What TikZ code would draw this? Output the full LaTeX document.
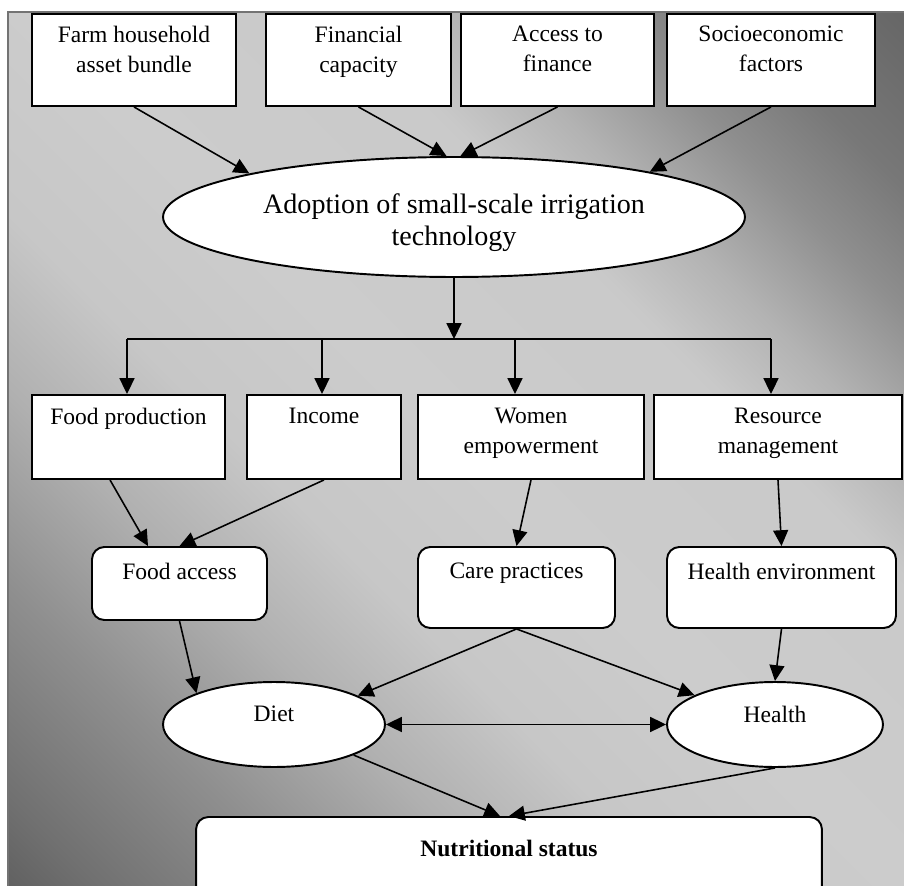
\documentclass[tikz,border=0pt]{standalone}
\usepackage{fontspec}
\setmainfont{Liberation Serif}
\usetikzlibrary{arrows.meta,shapes.geometric}
\definecolor{bgline}{gray}{0.45}
\pgfdeclareverticalshading{bgshade}{100bp}{color(0bp)=(black!62); color(25bp)=(black!62);
	color(27.5bp)=(black!56); color(33.5bp)=(black!44); color(39bp)=(black!31); color(44bp)=(black!22);
	color(50bp)=(black!20); color(59bp)=(black!21); color(62.5bp)=(black!30); color(66.5bp)=(black!44);
	color(70bp)=(black!53); color(75bp)=(black!60); color(100bp)=(black!60)}
\newcommand{\txtfont}{\fontsize{13.4}{17}\selectfont}
\newcommand{\bigfont}{\fontsize{16}{18.2}\selectfont}
\begin{document}
\begin{tikzpicture}[x=0.02cm,y=-0.02cm,
	>={Triangle[length=9pt,width=8.5pt]},
	box/.style={draw,line width=1.1pt,fill=white,inner sep=0pt},
	rbox/.style={box,rounded corners=7pt},
	oval/.style={box,ellipse},
	lbl/.style={anchor=north,align=center,inner sep=0pt,font=\txtfont},
	arr/.style={->,line width=0.9pt}]
\useasboundingbox (0,0) rectangle (904,886);
\begin{scope}
\clip (8,12) rectangle (904,886);
\begin{scope}[transform canvas={rotate around={-45:(456,449)}}]
\shade[shading=bgshade] (-170,-177) rectangle (1082,1075);
\end{scope}
\end{scope}
\draw[bgline,line width=1.2pt] (8,886) -- (8,12) -- (904,12);
% top row
\node[box,minimum width=4.08cm,minimum height=1.84cm,label={[lbl,yshift=-0.26cm]north:{Farm household\\asset bundle}}] (fhab) at (134,60) {};
\node[box,minimum width=3.70cm,minimum height=1.84cm,label={[lbl,yshift=-0.26cm]north:{Financial\\capacity}}] (fcap) at (358.5,60) {};
\node[box,minimum width=3.86cm,minimum height=1.84cm,label={[lbl,yshift=-0.26cm]north:{Access to\\finance}}] (afin) at (557.5,60) {};
\node[box,minimum width=4.16cm,minimum height=1.84cm,label={[lbl,yshift=-0.26cm]north:{Socioeconomic\\factors}}] (sefac) at (771,60) {};
\node[oval,minimum width=11.64cm,minimum height=2.4cm,label={[lbl,font=\bigfont,yshift=-0.74cm]north:{Adoption of small-scale irrigation\\technology}}] (adopt) at (454,217) {};
% pathways
\node[box,minimum width=3.86cm,minimum height=1.68cm,label={[lbl,yshift=-0.28cm]north:Food production}] (fprod) at (128.5,437) {};
\node[box,minimum width=3.08cm,minimum height=1.68cm,label={[lbl,yshift=-0.28cm]north:Income}] (inc) at (324,437) {};
\node[box,minimum width=4.52cm,minimum height=1.68cm,label={[lbl,yshift=-0.28cm]north:{Women\\empowerment}}] (wemp) at (531,437) {};
\node[box,minimum width=4.96cm,minimum height=1.68cm,label={[lbl,yshift=-0.28cm]north:{Resource\\management}}] (rman) at (778,437) {};
\node[rbox,minimum width=3.5cm,minimum height=1.46cm,label={[lbl,yshift=-0.34cm]north:Food access}] (facc) at (179.5,583.5) {};
\node[rbox,minimum width=3.94cm,minimum height=1.62cm,label={[lbl,yshift=-0.34cm]north:Care practices}] (care) at (516.5,587.5) {};
\node[rbox,minimum width=4.58cm,minimum height=1.62cm,label={[lbl,yshift=-0.34cm]north:Health environment}] (henv) at (781.5,587.5) {};
\node[oval,minimum width=4.44cm,minimum height=1.7cm,label={[lbl,yshift=-0.5cm]north:Diet}] (diet) at (274,724.5) {};
\node[oval,minimum width=4.32cm,minimum height=1.7cm,label={[lbl,yshift=-0.5cm]north:Health}] (health) at (775,724.5) {};
\node[rbox,minimum width=12.52cm,minimum height=1.76cm,label={[lbl,font=\txtfont\bfseries,yshift=-0.48cm]north:Nutritional status}] (ns) at (509,861) {};
\coordinate (split) at (454,339);
\coordinate (b1) at (127,339);
\coordinate (b2) at (322,339);
\coordinate (b3) at (515,339);
\coordinate (b4) at (771,339);
% arrows
\draw[arr] (fhab.south) -- (adopt.168);
\draw[arr] (fcap.south) -- (adopt.97);
\draw[arr] (afin.south) -- (adopt.84);
\draw[arr] (sefac.south) -- (adopt.13);
\draw[arr] (adopt.south) -- (split);
\draw[line width=0.9pt] (b1) -- (b4);
\foreach \b/\n in {b1/fprod,b2/inc,b3/wemp,b4/rman}
	\draw[arr] (\b) -- (\b |- \n.north);
\draw[arr] ([xshift=-0.37cm]fprod.south) -- ([xshift=-0.63cm]facc.north);
\draw[arr] (inc.south) -- (facc.north);
\draw[arr] (wemp.south) -- (care.north);
\draw[arr] (rman.south) -- (henv.north);
\draw[arr] (facc.south) -- (diet.158);
\draw[arr] (care.south) -- (diet.19);
\draw[arr] (care.south) -- (health.160);
\draw[arr] (henv.south) -- (health.north);
\draw[<->,line width=0.9pt] (diet.east) -- (health.west);
\draw[arr] (diet.-21) -- ([xshift=-0.18cm]ns.north);
\draw[arr] (health.south) -- (ns.north);
\end{tikzpicture}
\end{document}
